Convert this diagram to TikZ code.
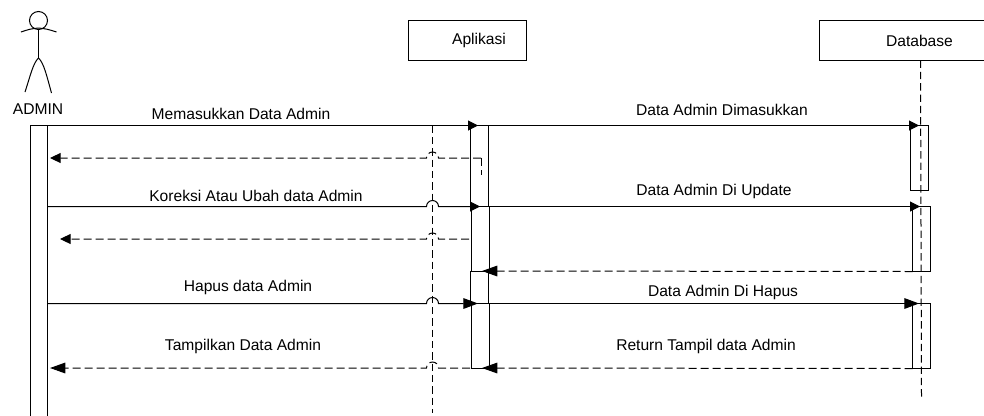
\documentclass[tikz,border=0pt]{standalone}
\usepackage{fontspec}
\setmainfont{Liberation Sans}
\usetikzlibrary{arrows.meta}

\tikzset{
  lifebox/.style={draw, minimum height=30pt, inner sep=0pt, outer sep=0pt},
  actbar/.style={draw, anchor=north west, minimum width=13.5pt, inner sep=0pt, outer sep=0pt},
  msglabel/.style={inner sep=0pt, font=\fontsize{11.7}{13}\selectfont},
  lifeline/.style={dash pattern=on 5.5pt off 3pt},
  msgcall/.style={-{Triangle[length=7.5pt, width=7.5pt]}},
  msgbig/.style={-{Triangle[length=11pt, width=8pt]}},
  msgback/.style={dash pattern=on 6pt off 3pt, -{Triangle[length=8pt, width=7.5pt]}},
  msgbackbig/.style={dash pattern=on 6pt off 3pt, -{Triangle[length=11.5pt, width=8pt]}},
  msgplain/.style={dash pattern=on 6pt off 3pt}
}

\begin{document}
\begin{tikzpicture}[x=0.75pt, y=-0.75pt, line width=0.75pt]
    \useasboundingbox (0, 0) rectangle (984, 415);

    % actor
    \node [draw, circle, minimum size=13.5pt, inner sep=0pt] (head) at (38.5, 20.5) {};
    \coordinate (neck) at (38.5, 28);
    \coordinate (hip) at (38.5, 58);
    \draw (head.south) -- (hip);
    \draw (21, 32) .. controls (30, 29) .. (neck) .. controls (47, 29) .. (56.5, 32);
    \draw (25, 92) .. controls (30, 77) and (33, 63) .. (hip);
    \draw (hip) .. controls (44, 63) and (47, 77) .. (51.5, 93);
    \node [msglabel] (admin) at (38, 109) {ADMIN};

    % lifeline heads
    \node [lifebox, minimum width=88.5pt] (aplikasi) at (467.5, 40.5) {};
    \node [msglabel] (aplikasitext) at (479, 40.5) {Aplikasi};
    \node [lifebox, minimum width=151.5pt] (database) at (920.5, 40.5) {};
    \node [msglabel] (databasetext) at (919.5, 40.5) {Database};

    % activation bars
    \node [actbar, minimum width=13.125pt, minimum height=225pt] (baradmin) at (30, 125.5) {};
    \node [actbar, minimum height=60.75pt] (barappone) at (470.5, 125.5) {};
    \node [actbar, minimum height=48.75pt] (barapptwo) at (471, 206.5) {};
    \node [actbar, minimum height=24pt] (barappthree) at (470.5, 271.5) {};
    \node [actbar, minimum height=48.75pt] (barappfour) at (471, 303.5) {};
    \node [actbar, minimum height=48.75pt] (bardbone) at (910.5, 125.5) {};
    \node [actbar, minimum height=48.75pt] (bardbtwo) at (912.5, 206.5) {};
    \node [actbar, minimum height=48.75pt] (bardbthree) at (912.5, 303.5) {};

    % lifelines
    \coordinate (lifeapptop) at (432.5, 125.5);
    \coordinate (lifeappend) at (432.5, 413);
    \coordinate (lifedbend) at (921.5, 398);
    \draw [lifeline] (lifeapptop) -- (lifeappend);
    \draw [lifeline] (database.south) -- (lifedbend);

    % named message ends
    \coordinate (tipone) at (478, 125.5);
    \coordinate (tiptwo) at (50, 158);
    \coordinate (hoptwo) at (432.5, 158);
    \coordinate (starttwo) at (481, 158);
    \coordinate (stubtwo) at (481, 175);
    \coordinate (startthree) at (48, 206.5);
    \coordinate (hopthree) at (432.5, 206.5);
    \coordinate (tipthree) at (480, 206.5);
    \coordinate (startfour) at (469, 239);
    \coordinate (hopfour) at (432.5, 239);
    \coordinate (tipfour) at (60, 239);
    \coordinate (startsix) at (48, 303.5);
    \coordinate (hopsix) at (432.5, 303.5);
    \coordinate (tipsix) at (478, 303.5);
    \coordinate (startseven) at (470, 368);
    \coordinate (hopseven) at (432.5, 368);
    \coordinate (tipseven) at (50, 368);

    % messages on the left
    \draw [msgcall] (baradmin.north east) -- (tipone);
    \draw [msgback] (starttwo) -- ([xshift=4.5pt]hoptwo) arc (0:180:4.5pt) -- (tiptwo);
    \draw [msgplain] (starttwo) -- (stubtwo);
    \draw [msgcall] (startthree) -- ([xshift=-4.5pt]hopthree) arc (180:0:4.5pt) -- (tipthree);
    \draw [msgback] (startfour) -- ([xshift=4.5pt]hopfour) arc (0:180:4.5pt) -- (tipfour);
    \draw [msgbig] (startsix) -- ([xshift=-4.5pt]hopsix) arc (180:0:4.5pt) -- (tipsix);
    \draw [msgbackbig] (startseven) -- ([xshift=4.5pt]hopseven) arc (0:180:4.5pt) -- (tipseven);

    % messages on the right
    \coordinate (tipdbone) at (919, 125.5);
    \coordinate (tipdbtwo) at (920, 206.5);
    \coordinate (tipdbthree) at (919, 303.5);
    \coordinate (tipappone) at (482, 271);
    \coordinate (tipapptwo) at (482, 368);
    \draw [msgcall] (barappone.north east) -- (tipdbone);
    \draw [msgcall] (barapptwo.north east) -- (tipdbtwo);
    \draw [msgbackbig] (bardbtwo.south west) -- (tipappone);
    \draw [msgbig] (barappfour.north east) -- (tipdbthree);
    \draw [msgbackbig] (bardbthree.south west) -- (tipapptwo);

    % labels
    \node [msglabel] (lblone) at (241, 114) {Memasukkan Data Admin};
    \node [msglabel] (lbltwo) at (722, 110) {Data Admin Dimasukkan};
    \node [msglabel] (lblthree) at (256, 196) {Koreksi Atau Ubah data Admin};
    \node [msglabel] (lblfour) at (714, 191) {Data Admin Di Update};
    \node [msglabel] (lblfive) at (248, 287) {Hapus data Admin};
    \node [msglabel] (lblsix) at (723, 292) {Data Admin Di Hapus};
    \node [msglabel] (lblseven) at (243, 346) {Tampilkan Data Admin};
    \node [msglabel] (lbleight) at (706, 346) {Return Tampil data Admin};
\end{tikzpicture}
\end{document}
